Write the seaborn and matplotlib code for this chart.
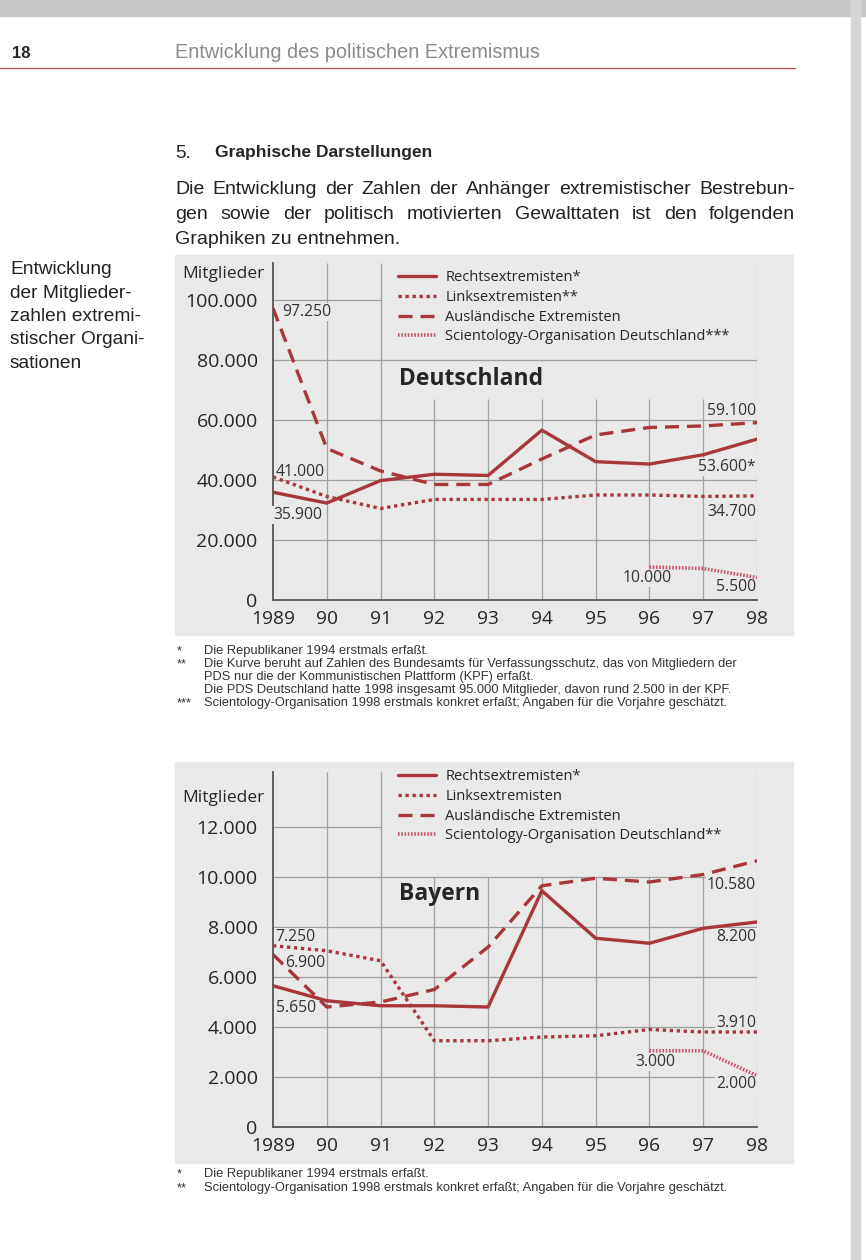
import numpy as np
import pandas as pd
import matplotlib
matplotlib.use("Agg")
import matplotlib.pyplot as plt
import seaborn as sns
from matplotlib.patches import Rectangle
from matplotlib.lines import Line2D

# ---- data (read from the page) ----
years = [1989, 1990, 1991, 1992, 1993, 1994, 1995, 1996, 1997, 1998]
year_labels = ["1989", "90", "91", "92", "93", "94", "95", "96", "97", "98"]
sci_years = [1996, 1997, 1998]

de_rechts = [35900, 32300, 39800, 41900, 41500, 56600, 46100, 45300, 48400, 53600]
de_links = [41000, 34500, 30500, 33500, 33500, 33500, 35000, 35000, 34500, 34700]
de_ausl = [97250, 50500, 43000, 38500, 38500, 47000, 55000, 57500, 58000, 59100]
de_sci = [11000, 10500, 7500]

by_rechts = [5650, 5050, 4850, 4850, 4800, 9450, 7550, 7350, 7950, 8200]
by_links = [7250, 7050, 6650, 3450, 3450, 3600, 3650, 3900, 3800, 3800]
by_ausl = [6900, 4800, 5000, 5500, 7200, 9650, 9950, 9800, 10100, 10650]
by_sci = [3050, 3050, 2050]

de_ticks = [0, 20000, 40000, 60000, 80000, 100000]
by_ticks = [0, 2000, 4000, 6000, 8000, 10000, 12000]

series_names = ["Rechtsextremisten*", "Linksextremisten", "Ausländische Extremisten",
                "Scientology-Organisation Deutschland"]

RED = "#a8363a"
PINK = "#c9566c"
PANEL = "#e9e9e9"
GRID = "#a0a0a0"

sns.set_style("white")
plt.rcParams["font.family"] = ["Open Sans", "DejaVu Sans"]
BODY = ["Liberation Sans", "DejaVu Sans"]

W, H = 866, 1260
fig = plt.figure(figsize=(8.66, 12.6), dpi=100)
renderer = fig.canvas.get_renderer()


def fx(x):
    return x / W


def fy(y):
    return 1 - y / H


def dots(n):
    return f"{n:,}".replace(",", ".")


def justified(line, x0, x1, y, **kw):
    # spread the words of one line over x0..x1 (px)
    words = line.split()
    arts = [fig.text(0, fy(y), w, va="center", **kw) for w in words]
    widths = [a.get_window_extent(renderer).width for a in arts]
    gap = (x1 - x0 - sum(widths)) / (len(words) - 1)
    x = x0
    for a, w in zip(arts, widths):
        a.set_x(fx(x))
        x += w + gap


# page decoration (scan edges)
fig.patches.append(Rectangle((0, fy(16)), 1, 16 / H, transform=fig.transFigure,
                             color="#c8c8c8", zorder=-10))
fig.patches.append(Rectangle((fx(851), 0), 9 / W, 1, transform=fig.transFigure,
                             color="#d4d4d4", zorder=-10))

fig.text(fx(12), fy(53), "18", fontsize=12, fontweight="bold", va="center", family=BODY)
fig.text(fx(175), fy(53), "Entwicklung des politischen Extremismus", fontsize=14.3,
         color="#8a8a8a", va="center", family=BODY)
fig.add_artist(Line2D([0, fx(795)], [fy(68), fy(68)], transform=fig.transFigure,
                      color="#b8595a", lw=1))

fig.text(fx(175), fy(153), "5.", fontsize=13.5, va="center", family=BODY)
fig.text(fx(215), fy(153), "Graphische Darstellungen", fontsize=12.5,
         fontweight="bold", va="center", family=BODY)
para = ["Die Entwicklung der Zahlen der Anhänger extremistischer Bestrebun-",
        "gen sowie der politisch motivierten Gewalttaten ist den folgenden",
        "Graphiken zu entnehmen."]
justified(para[0], 175, 795, 189, fontsize=14, color="#222222", family=BODY)
justified(para[1], 175, 795, 214.5, fontsize=14, color="#222222", family=BODY)
fig.text(fx(175), fy(240), para[2], fontsize=14, va="center", color="#222222", family=BODY)

side = ["Entwicklung", "der Mitglieder-", "zahlen extremi-", "stischer Organi-", "sationen"]
for i, line in enumerate(side):
    fig.text(fx(10), fy(270 + i * 23.3), line, fontsize=13.8, va="center", color="#222222",
             family=BODY)


def draw_chart(top, bottom, axis_top, ymax, zero_y, rechts, links, ausl, sci,
               ticks, full_lines, short_line, vtop, title, star_links, star_sci,
               labels, legend_top):
    # grey panel
    fig.patches.append(Rectangle((fx(175), fy(bottom)), (793 - 175) / W, (bottom - top) / H,
                                 transform=fig.transFigure, color=PANEL, zorder=-5))
    ax = fig.add_axes([fx(273), fy(zero_y), (757 - 273) / W, (zero_y - axis_top) / H])
    ax.set_facecolor("none")
    ax.set_xlim(years[0], years[-1])
    ax.set_ylim(0, ymax)

    # partial grid, as on the page
    for v in full_lines:
        ax.hlines(v, years[0], years[-1], color=GRID, lw=0.9, zorder=1)
    ax.hlines(short_line, years[0], 1991, color=GRID, lw=0.9, zorder=1)
    for yr in years[1:]:
        top_v = ymax if yr in (1990, 1991, 1998) else vtop
        ax.vlines(yr, 0, top_v, color=GRID, lw=0.9, zorder=1)

    df = pd.DataFrame({"Jahr": years, "rechts": rechts, "links": links, "ausl": ausl})
    sns.lineplot(data=df, x="Jahr", y="rechts", ax=ax, color=RED, lw=2.4,
                 label=series_names[0], zorder=4)
    sns.lineplot(data=df, x="Jahr", y="links", ax=ax, color=RED, lw=2.4,
                 linestyle=(0, (1.0, 1.1)), label=series_names[1] + star_links, zorder=4)
    sns.lineplot(data=df, x="Jahr", y="ausl", ax=ax, color=RED, lw=2.4,
                 linestyle=(0, (4.2, 2.4)), label=series_names[2], zorder=4)
    sns.lineplot(x=sci_years, y=sci, ax=ax, color=PINK, lw=2.6,
                 linestyle=(0, (0.45, 0.45)), label=series_names[3] + star_sci, zorder=4)

    handles, labs = ax.get_legend_handles_labels()
    ax.get_legend().remove()
    fig.legend(handles, labs, loc="upper left",
               bbox_to_anchor=(fx(398), fy(legend_top)), frameon=False,
               fontsize=10.5, handlelength=2.6, handletextpad=0.65,
               labelspacing=0.33, borderpad=0, borderaxespad=0)

    ax.set_xticks(years)
    ax.set_xticklabels(year_labels, fontsize=13.8)
    ax.set_yticks(ticks)
    ax.set_yticklabels([dots(t) for t in ticks], fontsize=14)
    ax.tick_params(length=0, pad=7)
    ax.tick_params(axis="y", pad=11)
    ax.set_xlabel("")
    ax.set_ylabel("")
    for s in ["top", "right"]:
        ax.spines[s].set_visible(False)
    for s in ["left", "bottom"]:
        ax.spines[s].set_color("#555555")
        ax.spines[s].set_linewidth(1.3)

    ax.text(1991.35, title[1], title[0], fontsize=16.5, fontweight="bold", va="center")
    for txt, x, y, ha in labels:
        ax.text(x, y, txt, fontsize=11.3, ha=ha, va="center", color="#333333", zorder=3,
                bbox=dict(facecolor=PANEL, edgecolor="none", pad=0.6))
    return ax


ax1 = draw_chart(255, 635, 263, 112300, 600, de_rechts, de_links, de_ausl, de_sci,
                 de_ticks, [20000, 40000, 60000, 80000], 100000, 67000,
                 ("Deutschland", 73500), "**", "***",
                 [("97.250", 1989.18, 96000, "left"),
                  ("41.000", 1989.05, 42800, "left"),
                  ("35.900", 1989.0, 28300, "left"),
                  ("59.100", 1997.98, 63000, "right"),
                  ("53.600*", 1997.98, 44300, "right"),
                  ("34.700", 1997.98, 29300, "right"),
                  ("10.000", 1995.95, 7300, "center"),
                  ("5.500", 1997.98, 4300, "right")],
                 270)
fig.text(fx(265), fy(274), "Mitglieder", fontsize=12.5, ha="right", va="center")

ax2 = draw_chart(762, 1163, 772, 14200, 1127, by_rechts, by_links, by_ausl, by_sci,
                 by_ticks, [2000, 4000, 6000, 8000, 10000], 12000, 10000,
                 ("Bayern", 9300), "", "**",
                 [("7.250", 1989.05, 7600, "left"),
                  ("6.900", 1989.22, 6550, "left"),
                  ("5.650", 1989.05, 4750, "left"),
                  ("10.580", 1997.98, 9680, "right"),
                  ("8.200", 1997.98, 7600, "right"),
                  ("3.910", 1997.98, 4150, "right"),
                  ("3.000", 1996.1, 2600, "center"),
                  ("2.000", 1997.98, 1720, "right")],
                 769)
fig.text(fx(265), fy(798), "Mitglieder", fontsize=12.5, ha="right", va="center")

# footnotes
notes1 = [("*", "Die Republikaner 1994 erstmals erfaßt."),
          ("**", "Die Kurve beruht auf Zahlen des Bundesamts für Verfassungsschutz, das von Mitgliedern der"),
          ("", "PDS nur die der Kommunistischen Plattform (KPF) erfaßt."),
          ("", "Die PDS Deutschland hatte 1998 insgesamt 95.000 Mitglieder, davon rund 2.500 in der KPF."),
          ("***", "Scientology-Organisation 1998 erstmals konkret erfaßt; Angaben für die Vorjahre geschätzt.")]
for i, (mark, txt) in enumerate(notes1):
    yy = fy(651 + i * 13)
    fig.text(fx(177), yy, mark, fontsize=9.3, va="center", color="#333333", family=BODY)
    fig.text(fx(204), yy, txt, fontsize=9.3, va="center", color="#333333", family=BODY)

notes2 = [("*", "Die Republikaner 1994 erstmals erfaßt."),
          ("**", "Scientology-Organisation 1998 erstmals konkret erfaßt; Angaben für die Vorjahre geschätzt.")]
for i, (mark, txt) in enumerate(notes2):
    yy = fy(1174 + i * 14)
    fig.text(fx(177), yy, mark, fontsize=9.3, va="center", color="#333333", family=BODY)
    fig.text(fx(204), yy, txt, fontsize=9.3, va="center", color="#333333", family=BODY)

fig.savefig("out.png", dpi=100, facecolor="white")
